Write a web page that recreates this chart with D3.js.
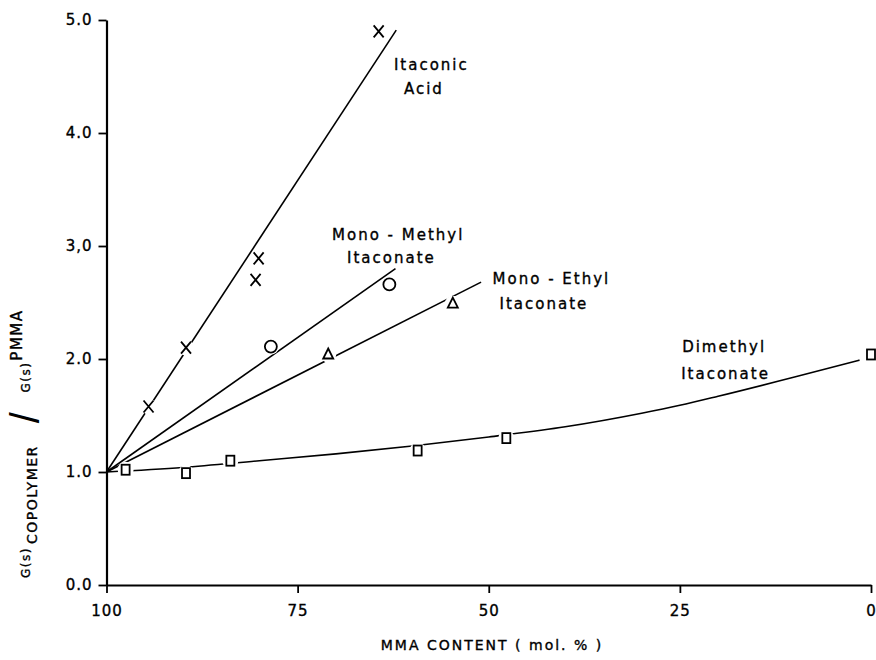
<!DOCTYPE html>
<html>
<head>
<meta charset="utf-8">
<script src="https://cdn.jsdelivr.net/npm/d3@7"></script>
<style>
  body { margin: 0; background: #fff; }
  svg text { font-family: "DejaVu Sans", sans-serif; fill: #000; stroke: #000; stroke-width: 0.35px; }
</style>
</head>
<body>
<div id="chart"></div>
<script>
// values: x = MMA content (mol %), y = G(s) ratio
const itaconicAcid = [[94.5, 1.58], [89.6, 2.10], [80.5, 2.70], [80.1, 2.89], [64.4, 4.90]];
const itaconicAcidLine = [[100, 1.0], [62.1, 4.91]];
const monoMethyl = [[78.5, 2.11], [63.0, 2.66]];
const monoMethylLine = [[100, 1.0], [62.2, 2.80]];
const monoEthyl = [[71.0, 2.04], [54.7, 2.49]];
const monoEthylLine = [[100, 1.0], [51.0, 2.68]];
const dimethyl = [[97.5, 1.02], [89.6, 0.99], [83.8, 1.10], [59.3, 1.19], [47.7, 1.30], [0, 2.04]];
const dimethylCurve = [[100, 1.0], [90, 1.04], [80, 1.10], [70, 1.16], [60, 1.23], [50, 1.31],
  [40, 1.40], [30, 1.52], [25, 1.59], [20, 1.67], [10, 1.84], [1.5, 1.99]];

const xTicks = [100, 75, 50, 25, 0];
const yTicks = [0, 1, 2, 3, 4, 5];
const yTickLabels = ["0.0", "1.0", "2.0", "3,0", "4.0", "5.0"];

const labels = [
  { lines: ["Itaconic", "Acid"], at: [62.4, 4.56], offs: [0, 10], gap: 24 },
  { lines: ["Mono - Methyl", "Itaconate"], at: [70.5, 3.05], offs: [0, 15], gap: 23 },
  { lines: ["Mono - Ethyl", "Itaconate"], at: [49.5, 2.66], offs: [0, 7], gap: 25 },
  { lines: ["Dimethyl", "Itaconate"], at: [24.7, 2.06], offs: [0, -1], gap: 27 }
];

const W = 876, H = 660;
const svg = d3.select("#chart").append("svg")
  .attr("width", W).attr("height", H);

const x = d3.scaleLinear().domain([100, 0]).range([106.5, 871]);
const y = d3.scaleLinear().domain([0, 5]).range([585, 20]);

// axes
const xAxis = svg.append("g")
  .attr("transform", "translate(0," + y(0) + ")")
  .call(d3.axisBottom(x).tickValues(xTicks).tickSize(8).tickSizeOuter(0).tickPadding(12));
const yAxis = svg.append("g")
  .attr("transform", "translate(" + x(100) + ",0)")
  .call(d3.axisLeft(y).tickValues(yTicks).tickSize(8).tickSizeOuter(0).tickPadding(6)
    .tickFormat((d, i) => yTickLabels[i]));

[xAxis, yAxis].forEach(a => {
  a.select(".domain").attr("stroke-width", 2.2);
  a.selectAll(".tick line").attr("stroke-width", 1.8);
  a.selectAll(".tick text").style("font-size", "15px").style("letter-spacing", "1px");
});

// axis titles
svg.append("text")
  .attr("x", 492).attr("y", 650)
  .attr("text-anchor", "middle")
  .style("font-size", "14px").style("letter-spacing", "2px")
  .text("MMA CONTENT  ( mol. % )");

const yt = svg.append("text")
  .attr("transform", "rotate(-90)")
  .attr("x", -578).attr("y", 30)
  .style("letter-spacing", "1.5px");
yt.append("tspan").style("font-size", "12px").text("G(s)");
yt.append("tspan").attr("dy", 7).attr("dx", 3).style("font-size", "14px").text("COPOLYMER");
yt.append("tspan").attr("dy", 2).attr("dx", 22)
  .style("font-family", "'Liberation Sans', sans-serif").style("font-size", "40px")
  .style("stroke-width", "0px").text("/");
yt.append("tspan").attr("dy", -9).attr("dx", 18).style("font-size", "12px").text("G(s)");
yt.append("tspan").attr("dy", -8).attr("dx", 1).style("font-size", "15px").text("PMMA");

// lines
const line = d3.line().x(d => x(d[0])).y(d => y(d[1]));
const curve = d3.line().x(d => x(d[0])).y(d => y(d[1])).curve(d3.curveMonotoneX);

[itaconicAcidLine, monoMethylLine, monoEthylLine].forEach(l => {
  svg.append("path").datum(l).attr("d", line)
    .attr("fill", "none").attr("stroke", "#000").attr("stroke-width", 1.6);
});
svg.append("path").datum(dimethylCurve).attr("d", curve)
  .attr("fill", "none").attr("stroke", "#000").attr("stroke-width", 1.6);

// white knock-outs so the lines break at the markers
const allPts = [].concat(itaconicAcid.slice(0, 4), monoMethyl, monoEthyl, dimethyl);
svg.append("g").selectAll("circle").data(allPts).enter().append("circle")
  .attr("cx", d => x(d[0])).attr("cy", d => y(d[1])).attr("r", 8).attr("fill", "#fff");

// markers
const mk = svg.append("g").attr("fill", "#fff").attr("stroke", "#000").attr("stroke-width", 1.8);
mk.selectAll(".cross").data(itaconicAcid).enter().append("path")
  .attr("d", d => {
    const cx = x(d[0]), cy = y(d[1]);
    return "M" + (cx - 5) + "," + (cy - 6) + "L" + (cx + 5) + "," + (cy + 6) +
      "M" + (cx + 5) + "," + (cy - 6) + "L" + (cx - 5) + "," + (cy + 6);
  });
mk.selectAll(".circ").data(monoMethyl).enter().append("circle")
  .attr("cx", d => x(d[0])).attr("cy", d => y(d[1])).attr("r", 6);
mk.selectAll(".tri").data(monoEthyl).enter().append("path")
  .attr("d", d => {
    const cx = x(d[0]), cy = y(d[1]);
    return "M" + cx + "," + (cy - 6) + "L" + (cx + 5) + "," + (cy + 4) + "L" + (cx - 5) + "," + (cy + 4) + "Z";
  });
mk.selectAll(".sq").data(dimethyl).enter().append("rect")
  .attr("x", d => x(d[0]) - 4).attr("y", d => y(d[1]) - 5)
  .attr("width", 8).attr("height", 10);

// annotations
labels.forEach(lb => {
  const t = svg.append("text")
    .attr("x", x(lb.at[0])).attr("y", y(lb.at[1]))
    .style("font-size", "15px").style("letter-spacing", "2px");
  lb.lines.forEach((s, i) => {
    t.append("tspan").attr("x", x(lb.at[0]) + lb.offs[i]).attr("dy", i === 0 ? 0 : lb.gap).text(s);
  });
});
</script>
</body>
</html>
